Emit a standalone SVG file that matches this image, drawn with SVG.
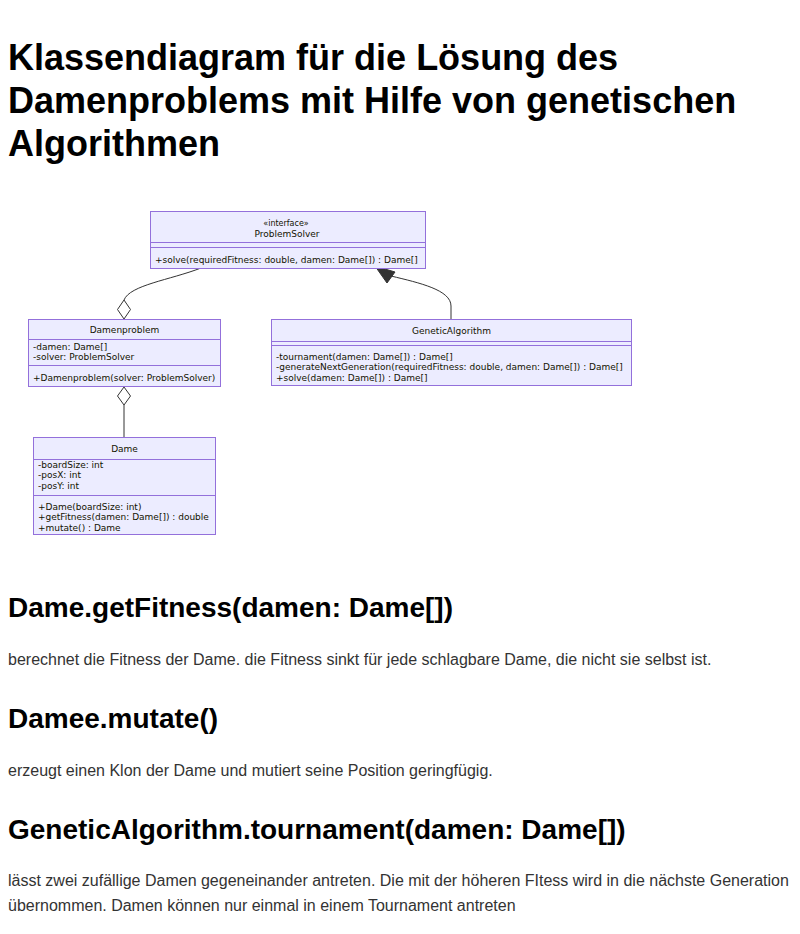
<svg xmlns="http://www.w3.org/2000/svg" width="800" height="934" viewBox="0 0 800 934">
  <style>
    .page { fill: #ffffff; }
    .h1 { font-family: "Liberation Sans", Arial, sans-serif; font-weight: bold; font-size: 36px; fill: #000000; }
    .h2 { font-family: "Liberation Sans", Arial, sans-serif; font-weight: bold; font-size: 28px; fill: #000000; }
    .p { font-family: "Liberation Sans", Arial, sans-serif; font-size: 16px; fill: #333333; }
    .box { fill: #ECECFF; stroke: #9370DB; stroke-width: 1; }
    .div { stroke: #9370DB; stroke-width: 1; }
    .t { font-family: "DejaVu Sans", Verdana, sans-serif; font-size: 9px; fill: #131300; }
    .title { font-family: "DejaVu Sans", Verdana, sans-serif; font-size: 9px; fill: #131300; text-anchor: middle; }
    .stereo { font-family: "DejaVu Sans", Verdana, sans-serif; font-size: 8px; fill: #131300; text-anchor: middle; }
    .edge { fill: none; stroke: #333333; stroke-width: 1; }
    .diamond { fill: #ffffff; stroke: #333333; stroke-width: 1; }
    .arrowhead { fill: #333333; stroke: #333333; stroke-width: 1; }
  </style>
  <rect class="page" x="0" y="0" width="800" height="934"/>

  <!-- page heading -->
  <text class="h1" x="8" y="70">Klassendiagram für die Lösung des</text>
  <text class="h1" x="8" y="113">Damenproblems mit Hilfe von genetischen</text>
  <text class="h1" x="8" y="156">Algorithmen</text>

  <!-- connectors -->
  <g id="connectors">
    <!-- ProblemSolver <>- Damenproblem -->
    <path class="edge" d="M201,268 C170,280 130,285 124,300"/>
    <path class="diamond" d="M124,300 L130.5,309.5 L124,319 L117.5,309.5 Z"/>
    <!-- Damenproblem <>- Dame -->
    <path class="edge" d="M124,405 L124,437"/>
    <path class="diamond" d="M124,387 L130.5,396 L124,405 L117.5,396 Z"/>
    <!-- GeneticAlgorithm implements ProblemSolver -->
    <path class="edge" d="M451,319 L451,306 C451,290 420,283 391,276"/>
    <path class="arrowhead" d="M375,266 L395,272 L387,283 Z"/>
  </g>

  <!-- ProblemSolver -->
  <g id="ProblemSolver">
    <rect class="box" x="150.5" y="211.5" width="275" height="57"/>
    <line class="div" x1="150.5" y1="242.5" x2="425.5" y2="242.5"/>
    <line class="div" x1="150.5" y1="247.5" x2="425.5" y2="247.5"/>
    <text class="stereo" x="286" y="226">«interface»</text>
    <text class="title" x="287" y="237">ProblemSolver</text>
    <text class="t" x="155" y="263">+solve(requiredFitness: double, damen: Dame[]) : Dame[]</text>
  </g>

  <!-- Damenproblem -->
  <g id="Damenproblem">
    <rect class="box" x="28.5" y="319.5" width="192" height="67"/>
    <line class="div" x1="28.5" y1="339.5" x2="220.5" y2="339.5"/>
    <line class="div" x1="28.5" y1="365.5" x2="220.5" y2="365.5"/>
    <text class="title" x="124.5" y="333">Damenproblem</text>
    <text class="t" x="33" y="350">-damen: Dame[]</text>
    <text class="t" x="33" y="360">-solver: ProblemSolver</text>
    <text class="t" x="33" y="381">+Damenproblem(solver: ProblemSolver)</text>
  </g>

  <!-- GeneticAlgorithm -->
  <g id="GeneticAlgorithm">
    <rect class="box" x="271.5" y="319.5" width="360" height="66"/>
    <line class="div" x1="271.5" y1="341.5" x2="631.5" y2="341.5"/>
    <line class="div" x1="271.5" y1="345.5" x2="631.5" y2="345.5"/>
    <text class="title" x="451.5" y="334">GeneticAlgorithm</text>
    <text class="t" x="276" y="360">-tournament(damen: Dame[]) : Dame[]</text>
    <text class="t" x="276" y="370">-generateNextGeneration(requiredFitness: double, damen: Dame[]) : Dame[]</text>
    <text class="t" x="276" y="381">+solve(damen: Dame[]) : Dame[]</text>
  </g>

  <!-- Dame -->
  <g id="Dame">
    <rect class="box" x="33.5" y="437.5" width="182" height="97"/>
    <line class="div" x1="33.5" y1="459.5" x2="215.5" y2="459.5"/>
    <line class="div" x1="33.5" y1="495.5" x2="215.5" y2="495.5"/>
    <text class="title" x="124.5" y="452">Dame</text>
    <text class="t" x="38" y="468">-boardSize: int</text>
    <text class="t" x="38" y="478">-posX: int</text>
    <text class="t" x="38" y="489">-posY: int</text>
    <text class="t" x="38" y="510">+Dame(boardSize: int)</text>
    <text class="t" x="38" y="520">+getFitness(damen: Dame[]) : double</text>
    <text class="t" x="38" y="531">+mutate() : Dame</text>
  </g>

  <!-- method notes -->
  <text class="h2" x="8" y="617">Dame.getFitness(damen: Dame[])</text>
  <text class="p" x="8" y="665">berechnet die Fitness der Dame. die Fitness sinkt für jede schlagbare Dame, die nicht sie selbst ist.</text>
  <text class="h2" x="8" y="728">Damee.mutate()</text>
  <text class="p" x="8" y="776">erzeugt einen Klon der Dame und mutiert seine Position geringfügig.</text>
  <text class="h2" x="8" y="839">GeneticAlgorithm.tournament(damen: Dame[])</text>
  <text class="p" x="8" y="886">lässt zwei zufällige Damen gegeneinander antreten. Die mit der höheren FItess wird in die nächste Generation</text>
  <text class="p" x="8" y="911">übernommen. Damen können nur einmal in einem Tournament antreten</text>
</svg>
